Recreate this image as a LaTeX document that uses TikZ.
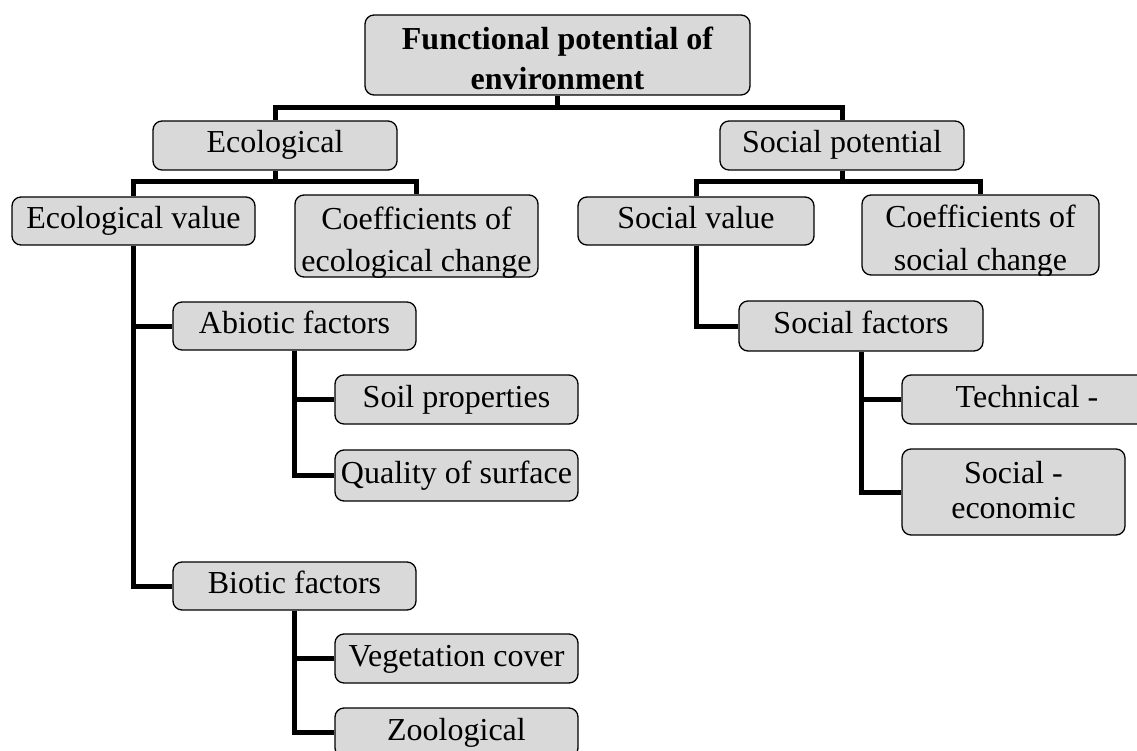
\documentclass[tikz,border=0pt]{standalone}
\usepackage{fontspec}
\setmainfont{Liberation Serif}
\definecolor{boxfill}{HTML}{D9D9D9}
\tikzset{
  box/.style={draw=black, line width=1.3pt, rounded corners=9pt, fill=boxfill,
    inner sep=0pt, minimum width=243pt, minimum height=48pt,
    text height=22pt, text depth=7pt, font=\fontsize{32}{40}\selectfont},
  conn/.style={line width=5pt, draw=black, line join=miter},
  txt/.style={draw=none, fill=none, inner sep=0pt, anchor=base,
    font=\fontsize{32}{40}\selectfont},
  btxt/.style={txt, font=\fontsize{32}{40}\selectfont\bfseries},
}
\begin{document}
\begin{tikzpicture}[x=1pt, y=-1pt]
\useasboundingbox (0,0) rectangle (1137,751);

% level 0
\node[box, minimum width=385pt, minimum height=80pt, path picture={
  \node[btxt] at ([yshift=5pt]path picture bounding box.center) {Functional potential of};
  \node[btxt] at ([yshift=-35pt]path picture bounding box.center) {environment};
}] (top) at (557.5,55) {};

% level 1
\node[box, minimum width=244pt, minimum height=49pt] (eco) at (275,145.5) {Ecological};
\node[box, minimum width=244pt, minimum height=49pt] (soc) at (842,145.5) {Social potential};

% level 2
\node[box] (ecoval) at (133.5,221) {Ecological value};
\node[box, minimum height=82pt, path picture={
  \node[txt] at ([yshift=6pt]path picture bounding box.center) {Coefficients of};
  \node[txt] at ([yshift=-36pt]path picture bounding box.center) {ecological change};
}] (coefeco) at (416.5,236) {};
\node[box, minimum width=236pt] (socval) at (696,221) {Social value};
\node[box, minimum width=237pt, minimum height=80pt, path picture={
  \node[txt] at ([yshift=7pt]path picture bounding box.center) {Coefficients of};
  \node[txt] at ([yshift=-36pt]path picture bounding box.center) {social change};
}] (coefsoc) at (980.5,235) {};

% ecological subtree
\node[box] (abiotic) at (294.5,326) {Abiotic factors};
\node[box, minimum height=49pt] (soil) at (456.5,399.5) {Soil properties};
\node[box, minimum height=51pt] (quality) at (456.5,475.5) {Quality of surface};
\node[box] (biotic) at (294.5,586) {Biotic factors};
\node[box, minimum height=49pt] (veg) at (456.5,658.5) {Vegetation cover};
\node[box, minimum height=49pt] (zoo) at (456.5,732.5) {Zoological};

% social subtree
\node[box, minimum width=244pt, minimum height=50pt] (socfac) at (861,326) {Social factors};
\node[box, minimum width=250pt, minimum height=49pt] (tech) at (1027,399.5) {Technical -};
\node[box, minimum width=223pt, minimum height=86pt, path picture={
  \node[txt] at ([yshift=9pt]path picture bounding box.center) {Social -};
  \node[txt] at ([yshift=-26pt]path picture bounding box.center) {economic};
}] (socecon) at (1013.5,492) {};

% bar levels
\coordinate (bar1) at (0,108);
\coordinate (bar2) at (0,182);

% connectors
\draw[conn] (top.south) -- (top.south |- bar1) -| (eco.north);
\draw[conn] (top.south |- bar1) -| (soc.north);
\draw[conn] (eco.south) -- (eco.south |- bar2) -| (ecoval.north);
\draw[conn] (eco.south |- bar2) -| (coefeco.north);
\draw[conn] (soc.south) -- (soc.south |- bar2) -| (socval.north);
\draw[conn] (soc.south |- bar2) -| (coefsoc.north);
\draw[conn] (ecoval.south) |- (abiotic.west);
\draw[conn] (ecoval.south) |- (biotic.west);
\draw[conn] (abiotic.south) |- (soil.west);
\draw[conn] (abiotic.south) |- (quality.west);
\draw[conn] (biotic.south) |- (veg.west);
\draw[conn] (biotic.south) |- (zoo.west);
\draw[conn] (socval.south) |- (socfac.west);
\draw[conn] (socfac.south) |- (tech.west);
\draw[conn] (socfac.south) |- (socecon.west);
\end{tikzpicture}
\end{document}
